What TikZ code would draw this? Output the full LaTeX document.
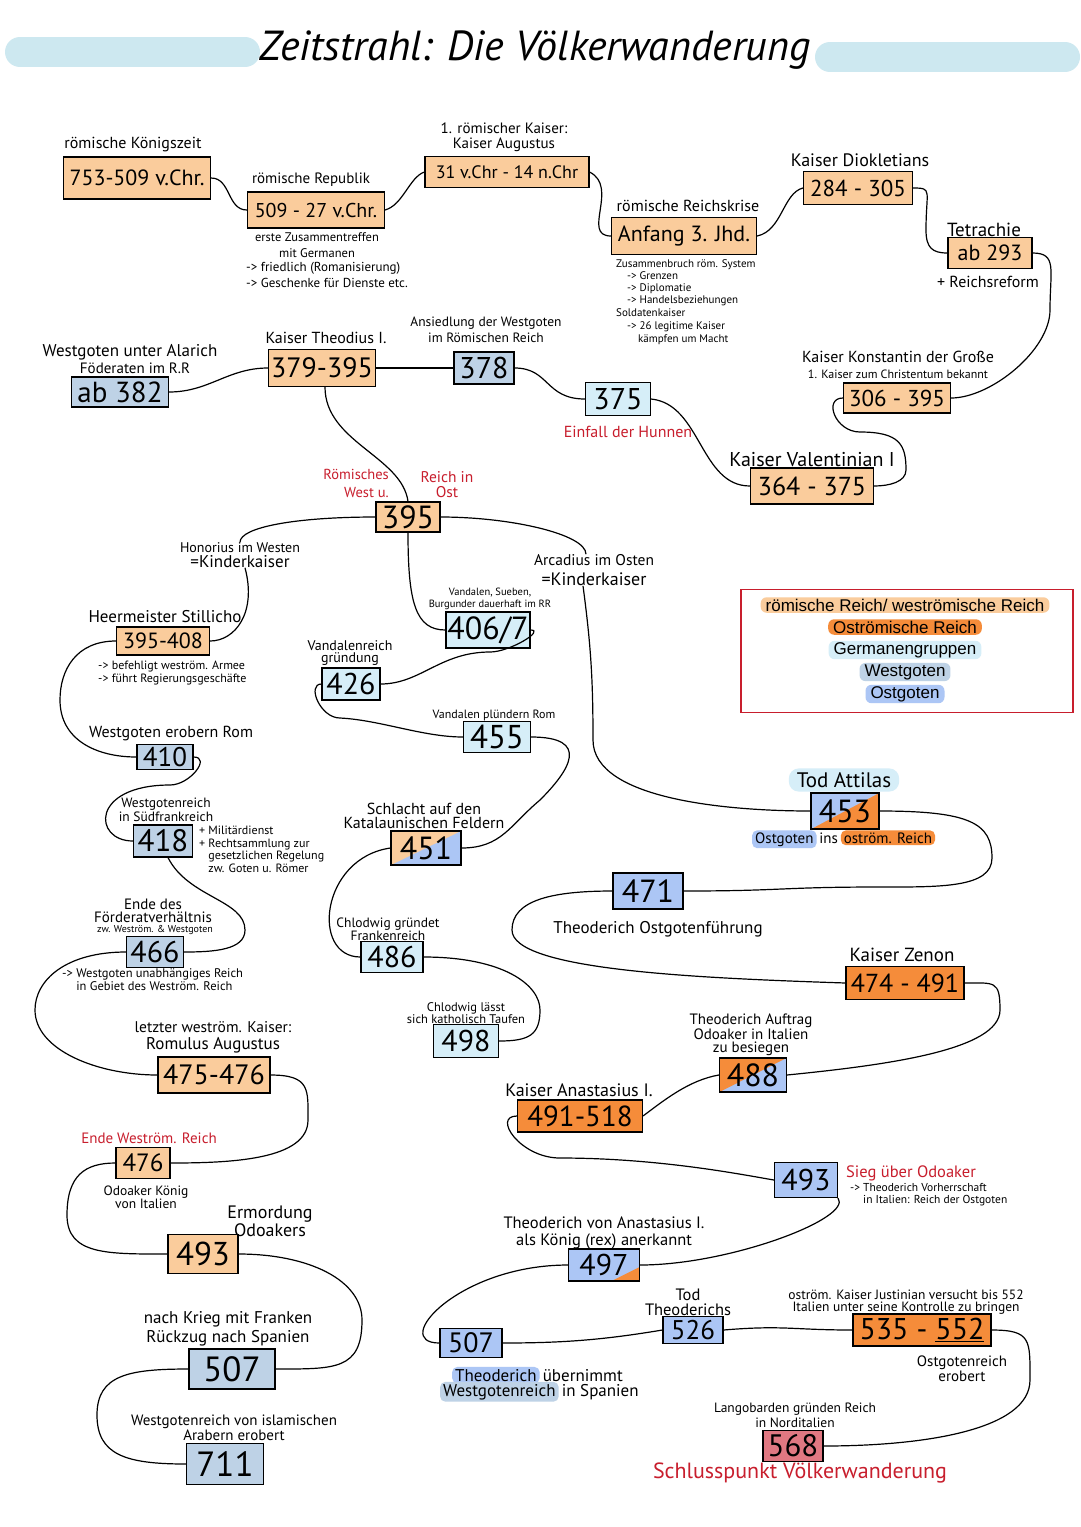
\documentclass[tikz,border=0pt]{standalone}
\usepackage{fontspec}
\setmainfont{PT Sans}
\newfontfamily\legfont{Liberation Sans}
\definecolor{rom}{RGB}{250,204,156}
\definecolor{ost}{RGB}{245,140,58}
\definecolor{germ}{RGB}{214,238,248}
\definecolor{west}{RGB}{190,210,230}
\definecolor{ostg}{RGB}{172,198,245}
\definecolor{pinkc}{RGB}{224,120,130}
\definecolor{redt}{RGB}{200,30,45}
\definecolor{band}{RGB}{205,232,240}
\tikzset{
  yb/.style={draw=black, line width=1.1pt, inner sep=0pt, font=\fontsize{#1}{#1}\selectfont},
  lab/.style={inner sep=0pt, align=center, font=\fontsize{16}{17}\selectfont},
  sm/.style={inner sep=0pt, align=left, font=\fontsize{13}{16}\selectfont},
  ln/.style={line width=1.2pt, black},
  hl/.style={inner xsep=3pt, inner ysep=2pt, rounded corners=5pt},
  legl/.style={font=\legfont\fontsize{17}{17}\selectfont, inner xsep=5pt, inner ysep=1.5pt, rounded corners=6pt},
  splitnw/.style 2 args={fill=#2, path picture={\fill[#1] (path picture bounding box.north west) -- (path picture bounding box.north east) -- (path picture bounding box.south west) -- cycle;}},
}
\newcommand\fz[2]{\fontsize{#1}{#2}\selectfont}
\begin{document}
\begin{tikzpicture}[x=1pt,y=-1pt]
\fill[white] (0,0) rectangle (1080,1527);
\useasboundingbox (0,0) rectangle (1080,1527);
% title
\draw[band, line width=30, line cap=round] (20,52) -- (245,52);
\draw[band, line width=30, line cap=round] (830,57) -- (1065,57);
\node[font=\fz{42}{42}\itshape] (title) at (535,50) {Zeitstrahl: Die Völkerwanderung};

% legend
\node[draw=redt, line width=1.2pt, minimum width=332, minimum height=123] (leg) at (907,651) {};
\node[legl, fill=rom] (g1) at (905,605) {römische Reich/ weströmische Reich};
\node[legl, fill=ost] (g2) at (905,627) {Oströmische Reich};
\node[legl, fill=germ] (g3) at (905,650) {Germanengruppen};
\node[legl, fill=west] (g4) at (905,672) {Westgoten};
\node[legl, fill=ostg] (g5) at (905,694) {Ostgoten};

% top row
\node[lab] (l753) at (133,145) {römische Königszeit};
\node[yb=22, fill=rom, minimum width=147, minimum height=42] (b753) at (137,178) {753-509 v.Chr.};
\node[lab, font=\fz{15}{16}] (l509) at (311,180) {römische Republik};
\node[yb=20, fill=rom, minimum width=137, minimum height=36] (b509) at (316,210) {509 - 27 v.Chr.};
\node[sm, align=center, font=\fz{12.5}{16}] (n509a) at (317,245) {erste Zusammentreffen\\mit Germanen};
\node[sm, anchor=north west] (n509b) at (246,262) {-> friedlich (Romanisierung)\\-> Geschenke für Dienste etc.};
\node[lab, font=\fz{15}{15}] (l31) at (504,137) {1. römischer Kaiser:\\Kaiser Augustus};
\node[yb=18, fill=rom, minimum width=164, minimum height=31] (b31) at (507,172) {31 v.Chr - 14 n.Chr};
\node[lab] (l3j) at (688,206) {römische Reichskrise};
\node[yb=22, fill=rom, minimum width=145, minimum height=37] (b3j) at (684,236) {Anfang 3. Jhd.};
\node[sm, font=\fz{11}{12}, anchor=north west] (n3j) at (616,259) {Zusammenbruch röm. System\\\quad-> Grenzen\\\quad-> Diplomatie\\\quad-> Handelsbeziehungen};
\node[sm, font=\fz{11}{13}, anchor=north west] (n3k) at (616,308) {Soldatenkaiser\\\quad-> 26 legitime Kaiser\\\quad\quad kämpfen um Macht};
\node[lab, font=\fz{18}{18}] (l284) at (860,160) {Kaiser Diokletians};
\node[yb=23, fill=rom, minimum width=109, minimum height=33] (b284) at (858,188) {284 - 305};
\node[lab, font=\fz{19}{19}] (l293) at (984,230) {Tetrachie};
\node[yb=22, fill=rom, minimum width=84, minimum height=31] (b293) at (990,253) {ab 293};
\node[lab] (n293) at (988,282) {+ Reichsreform};
\node[lab] (l306) at (898,357) {Kaiser Konstantin der Große};
\node[sm, font=\fz{12}{12}] (l306b) at (898,374) {1. Kaiser zum Christentum bekannt};
\node[yb=23, fill=rom, minimum width=107, minimum height=30] (b306) at (897,398) {306 - 395};
\node[lab, font=\fz{20}{20}] (l364) at (812,460) {Kaiser Valentinian I};
\node[yb=26, fill=rom, minimum width=123, minimum height=36] (b364) at (812,486) {364 - 375};
\node[yb=30, fill=germ, minimum width=65, minimum height=33] (b375) at (618,399) {375};
\node[lab, text=redt] (n375) at (628,432) {Einfall der Hunnen};
\node[lab, font=\fz{13.5}{16}] (l378) at (486,330) {Ansiedlung der Westgoten\\im Römischen Reich};
\node[yb=30, fill=west, minimum width=60, minimum height=32] (b378) at (484,368) {378};
\node[lab] (l379) at (326,338) {Kaiser Theodius I.};
\node[yb=28, fill=rom, minimum width=107, minimum height=37] (b379) at (322,368) {379-395};
\node[lab, font=\fz{17}{17}] (l382) at (130,352) {Westgoten unter Alarich};
\node[lab, font=\fz{15}{15}] (l382b) at (135,368) {Föderaten im R.R};
\node[yb=29, fill=west, minimum width=97, minimum height=30] (b382) at (120,392) {ab 382};

% 395
\node[lab, text=redt, align=right, anchor=east, font=\fz{14.5}{18}] (l395a) at (389,483) {Römisches\\West u.};
\node[lab, text=redt, font=\fz{15.5}{15}] (l395b) at (447,485) {Reich in\\Ost};
\node[yb=32, fill=rom, minimum width=64, minimum height=30] (b395) at (408,517) {395};
\node[lab, font=\fz{14}{15}] (lhon) at (240,555) {Honorius im Westen\\{\fz{17}{17}=Kinderkaiser}};
\node[lab, font=\fz{15.5}{20}] (larc) at (594,570) {Arcadius im Osten\\{\fz{18}{18}=Kinderkaiser}};
\node[lab, font=\fz{17}{17}] (l395s) at (165,617) {Heermeister Stillicho};
\node[yb=22, fill=rom, minimum width=93, minimum height=28] (b395s) at (163,641) {395-408};
\node[sm, font=\fz{12}{13}, anchor=north west] (n395s) at (98,661) {-> befehligt weström. Armee\\-> führt Regierungsgeschäfte};
\node[lab, font=\fz{10.5}{12}] (l406) at (490,599) {Vandalen, Sueben,\\Burgunder dauerhaft im RR};
\node[yb=32, fill=germ, minimum width=84, minimum height=36] (b406) at (488,630) {406/7};
\node[lab, font=\fz{14}{12.5}] (l426) at (350,653) {Vandalenreich\\gründung};
\node[yb=30, fill=germ, minimum width=58, minimum height=32] (b426) at (351,684) {426};
\node[lab, font=\fz{12}{12}] (l455) at (494,715) {Vandalen plündern Rom};
\node[yb=33, fill=germ, minimum width=67, minimum height=31] (b455) at (497,737) {455};
\node[lab] (l410) at (171,734) {Westgoten erobern Rom};
\node[yb=27, fill=west, minimum width=56, minimum height=25] (b410) at (165,757) {410};
\node[lab, font=\fz{13.5}{14}] (l418) at (166,810) {Westgotenreich\\in Südfrankreich};
\node[yb=31, fill=west, minimum width=59, minimum height=32] (b418) at (163,841) {418};
\node[sm, font=\fz{12}{12.5}, anchor=north west] (n418) at (199,826) {+ Militärdienst\\+ Rechtsammlung zur\\\phantom{+ }gesetzlichen Regelung\\\phantom{+ }zw. Goten u. Römer};
\node[lab, font=\fz{16}{14}] (l451) at (424,816) {Schlacht auf den\\Katalaunischen Feldern};
\node[yb=32, splitnw={rom}{ostg}, minimum width=70, minimum height=34] (b451) at (426,848) {451};
\node[lab, font=\fz{21}{21}, fill=germ, rounded corners=10pt, inner xsep=8pt, inner ysep=4pt] (l453) at (844,780) {Tod Attilas};
\node[yb=32, splitnw={ostg}{ost}, minimum width=68, minimum height=36] (b453) at (845,811) {453};
\node[hl, fill=ostg, anchor=base west, font=\fz{15}{15}] (o1) at (752,843) {Ostgoten};
\node[inner sep=0pt, anchor=base west, font=\fz{15}{15}] (o2) at (o1.base east) {\,ins\,};
\node[hl, fill=ost, anchor=base west, font=\fz{15}{15}] (o3) at (o2.base east) {oström. Reich};

% middle right
\node[yb=32, fill=ostg, minimum width=70, minimum height=36] (b471) at (648,891) {471};
\node[lab, font=\fz{17}{17}] (l471) at (658,929) {Theoderich Ostgotenführung};
\node[lab, font=\fz{19}{19}] (l474) at (902,955) {Kaiser Zenon};
\node[yb=26, fill=ost, minimum width=118, minimum height=33] (b474) at (905,983) {474 - 491};
\node[lab, font=\fz{15}{13.5}] (l488) at (751,1035) {Theoderich Auftrag\\Odoaker in Italien\\zu besiegen};
\node[yb=32, splitnw={ost}{ostg}, minimum width=67, minimum height=34] (b488) at (753,1075) {488};
\node[lab, font=\fz{18}{18}] (l491) at (579,1090) {Kaiser Anastasius I.};
\node[yb=29, fill=ost, minimum width=125, minimum height=32] (b491) at (580,1116) {491-518};
\node[yb=30, fill=ostg, minimum width=63, minimum height=35] (b493r) at (806,1180) {493};
\node[lab, text=redt, anchor=west, font=\fz{16.5}{16}] (l493r) at (846,1173) {Sieg über Odoaker};
\node[sm, font=\fz{11.5}{12}, anchor=north west] (n493r) at (850,1183) {-> Theoderich Vorherrschaft\\\phantom{-> }in Italien: Reich der Ostgoten};
\node[lab, font=\fz{16.5}{17}] (l497) at (604,1233) {Theoderich von Anastasius I.\\als König (rex) anerkannt};
\node[yb=30, fill=ostg, minimum width=71, minimum height=32, path picture={\fill[ost] (path picture bounding box.south east) -- ++(-28,0) -- ++(28,-14) -- cycle;}] (b497) at (604,1265) {497};
\node[lab, font=\fz{16.5}{15}] (l526) at (688,1302) {Tod\\Theoderichs};
\node[yb=27, fill=ostg, minimum width=60, minimum height=27] (b526) at (693,1330) {526};
\node[sm, align=center, font=\fz{13.5}{12.5}] (l535) at (906,1302) {oström. Kaiser Justinian versucht bis 552\\Italien unter seine Kontrolle zu bringen};
\node[yb=30, fill=ost, minimum width=138, minimum height=32] (b535) at (922,1330) {535 - \underline{552}};
\node[lab, font=\fz{15}{15}] (n535) at (962,1369) {Ostgotenreich\\erobert};
\node[lab, font=\fz{13.5}{15}] (l568) at (795,1415) {Langobarden gründen Reich\\in Norditalien};
\node[yb=31, fill=pinkc, minimum width=60, minimum height=31] (b568) at (793,1446) {568};
\node[lab, text=redt, font=\fz{22}{22}] (n568) at (800,1473) {Schlusspunkt Völkerwanderung};
\node[yb=28, fill=ostg, minimum width=62, minimum height=29] (b507r) at (471,1343) {507};
\node[hl, fill=ostg, anchor=base west, font=\fz{17}{17}] (t1) at (452,1381) {Theoderich};
\node[inner sep=0pt, anchor=base west, font=\fz{17}{17}] (t2) at (t1.base east) {\,übernimmt};
\node[hl, fill=west, anchor=base west, font=\fz{17}{17}] (t3) at (440,1396) {Westgotenreich};
\node[inner sep=0pt, anchor=base west, font=\fz{17}{17}] (t4) at (t3.base east) {\,in Spanien};

% left column
\node[lab, font=\fz{15}{13.5}, anchor=south] (l466) at (153,923) {Ende des\\Förderatverhältnis};
\node[sm, font=\fz{10}{10}] (l466b) at (155,930) {zw. Weström. \& Westgoten};
\node[yb=30, fill=west, minimum width=57, minimum height=31] (b466) at (155,952) {466};
\node[sm, font=\fz{12.5}{13}, anchor=north west] (n466) at (62,968) {-> Westgoten unabhängiges Reich\\\phantom{-> }in Gebiet des Weström. Reich};
\node[lab, font=\fz{15.5}{17}] (l475) at (213,1037) {letzter weström. Kaiser:\\{\fz{17}{17}Romulus Augustus}};
\node[yb=28, fill=rom, minimum width=112, minimum height=36] (b475) at (214,1075) {475-476};
\node[lab, text=redt, font=\fz{15}{15}] (l476) at (149,1138) {Ende Weström. Reich};
\node[yb=25, fill=rom, minimum width=54, minimum height=31] (b476) at (143,1163) {476};
\node[lab, font=\fz{13.5}{12}] (n476) at (146,1197) {Odoaker König\\von Italien};
\node[lab, font=\fz{18}{16}] (l493l) at (270,1221) {Ermordung\\Odoakers};
\node[yb=33, fill=rom, minimum width=70, minimum height=39] (b493l) at (203,1254) {493};
\node[lab, font=\fz{17}{19}] (l507l) at (228,1329) {nach Krieg mit Franken\\Rückzug nach Spanien};
\node[yb=35, fill=west, minimum width=86, minimum height=40] (b507l) at (232,1369) {507};
\node[lab, font=\fz{15}{13}] (l711) at (234,1428) {Westgotenreich von islamischen\\Arabern erobert};
\node[yb=35, fill=west, minimum width=77, minimum height=41] (b711) at (225,1464) {711};

% middle
\node[lab, font=\fz{13.5}{11}] (l486) at (388,929) {Chlodwig gründet\\Frankenreich};
\node[yb=30, fill=germ, minimum width=62, minimum height=31] (b486) at (392,957) {486};
\node[lab, font=\fz{12.5}{12}] (l498) at (466,1013) {Chlodwig lässt\\sich katholisch Taufen};
\node[yb=30, fill=germ, minimum width=65, minimum height=33] (b498) at (466,1041) {498};

% connectors
\draw[ln] (b753.east) .. controls +(20,0) and +(-20,0) .. (b509.west);
\draw[ln] (b509.east) .. controls +(18,-5) and +(-15,5) .. (b31.west);
\draw[ln] (b31.east) .. controls +(30,15) and +(-30,0) .. (b3j.west);
\draw[ln] (b3j.east) .. controls +(25,-5) and +(-20,5) .. (b284.west);
\draw[ln] (b284.east) .. controls +(20,0) and +(0,-40) .. (926,230) .. controls +(0,18) and +(-15,0) .. (b293.west);
\draw[ln] (b293.east) .. controls +(25,0) and +(0,-40) .. (1050,310) .. controls +(0,40) and +(40,0) .. (b306.east);
\draw[ln] (b306.west) .. controls +(-20,0) and +(-25,0) .. (860,432) .. controls +(40,0) and +(0,-25) .. (906,470) .. controls +(0,12) and +(15,0) .. (b364.east);
\draw[ln] (b364.west) .. controls +(-50,0) and +(50,5) .. (b375.east);
\draw[ln] (b375.west) .. controls +(-40,0) and +(35,0) .. (b378.east);
\draw[ln] (b378.west) -- (b379.east);
\draw[ln] (b379.west) .. controls +(-40,0) and +(40,0) .. (b382.east);
\draw[ln] ([xshift=3pt]b379.south) .. controls +(0,55) and +(-6,-45) .. (b395.north);
\draw[ln] (b395.west) .. controls +(-80,0) and +(0,-15) .. (lhon.north);
\draw[ln] ([xshift=5pt]lhon.south) .. controls +(12,45) and +(25,0) .. (b395s.east);
\draw[ln] (b395.east) .. controls +(70,0) and +(0,-20) .. ([xshift=-8pt]larc.north);
\draw[ln] ([xshift=-11pt]larc.south) .. controls +(8,60) and +(0,-60) .. (593,740) .. controls +(0,60) and +(-80,0) .. (b453.west);
\draw[ln] (b395.south) .. controls +(0,70) and +(-30,0) .. (b406.west);
\draw[ln] (b406.east) .. controls +(15,0) and +(20,0) .. (490,652) .. controls +(-50,0) and +(40,0) .. (b426.east);
\draw[ln] (b426.west) .. controls +(-15,0) and +(-20,0) .. (340,718) .. controls +(40,2) and +(-40,0) .. (b455.west);
\draw[ln] (b455.east) .. controls +(60,0) and +(30,-30) .. (540,800) .. controls +(-30,25) and +(40,0) .. (b451.east);
\draw[ln] (b451.west) .. controls +(-70,10) and +(-50,0) .. (b486.west);
\draw[ln] (b486.east) .. controls +(80,0) and +(0,-25) .. (540,1010) .. controls +(0,25) and +(30,0) .. (b498.east);
\draw[ln] (b395s.west) .. controls +(-40,0) and +(0,-30) .. (60,700) .. controls +(0,40) and +(-40,0) .. (b410.west);
\draw[ln] (b410.east) .. controls +(18,0) and +(20,0) .. (170,785) .. controls +(-80,0) and +(-40,0) .. (b418.west);
\draw[ln] ([xshift=5pt]b418.south) .. controls +(20,40) and +(0,-30) .. (245,930) .. controls +(0,20) and +(30,0) .. (b466.east);
\draw[ln] (b466.west) .. controls +(-60,0) and +(0,-30) .. (35,1010) .. controls +(0,40) and +(-60,0) .. (b475.west);
\draw[ln] (b475.east) .. controls +(40,0) and +(0,-30) .. (308,1120) .. controls +(0,40) and +(60,0) .. (b476.east);
\draw[ln] (b476.west) .. controls +(-30,0) and +(0,-40) .. (67,1215) .. controls +(0,40) and +(-60,0) .. (b493l.west);
\draw[ln] (b493l.east) .. controls +(70,0) and +(0,-40) .. (362,1320) .. controls +(0,50) and +(60,0) .. (b507l.east);
\draw[ln] (b507l.west) .. controls +(-60,0) and +(0,-40) .. (97,1415) .. controls +(0,40) and +(-60,0) .. (b711.west);
\draw[ln] (b453.east) .. controls +(90,0) and +(0,-35) .. (992,858) .. controls +(0,30) and +(60,0) .. (880,887) .. controls +(-100,0) and +(100,0) .. (b471.east);
\draw[ln] (b471.west) .. controls +(-60,0) and +(0,-30) .. (512,930) .. controls +(0,40) and +(-150,-5) .. (b474.west);
\draw[ln] (b474.east) .. controls +(30,0) and +(0,-30) .. (1000,1010) .. controls +(0,40) and +(100,-10) .. (b488.east);
\draw[ln] (b488.west) .. controls +(-30,5) and +(20,-15) .. (b491.east);
\draw[ln] (b491.west) .. controls +(-25,0) and +(-40,0) .. (560,1158) .. controls +(100,0) and +(-30,-5) .. (b493r.west);
\draw[ln] (b493r.south east) .. controls +(15,20) and +(90,0) .. (b497.east);
\draw[ln] (b497.west) .. controls +(-110,0) and +(-50,0) .. (b507r.west);
\draw[ln] (b507r.east) .. controls +(60,0) and +(-60,10) .. (b526.west);
\draw[ln] (b526.east) .. controls +(60,-5) and +(-60,0) .. (b535.west);
\draw[ln] (b535.east) .. controls +(40,0) and +(0,-40) .. (1030,1380) .. controls +(0,50) and +(100,0) .. (b568.east);
\end{tikzpicture}
\end{document}
